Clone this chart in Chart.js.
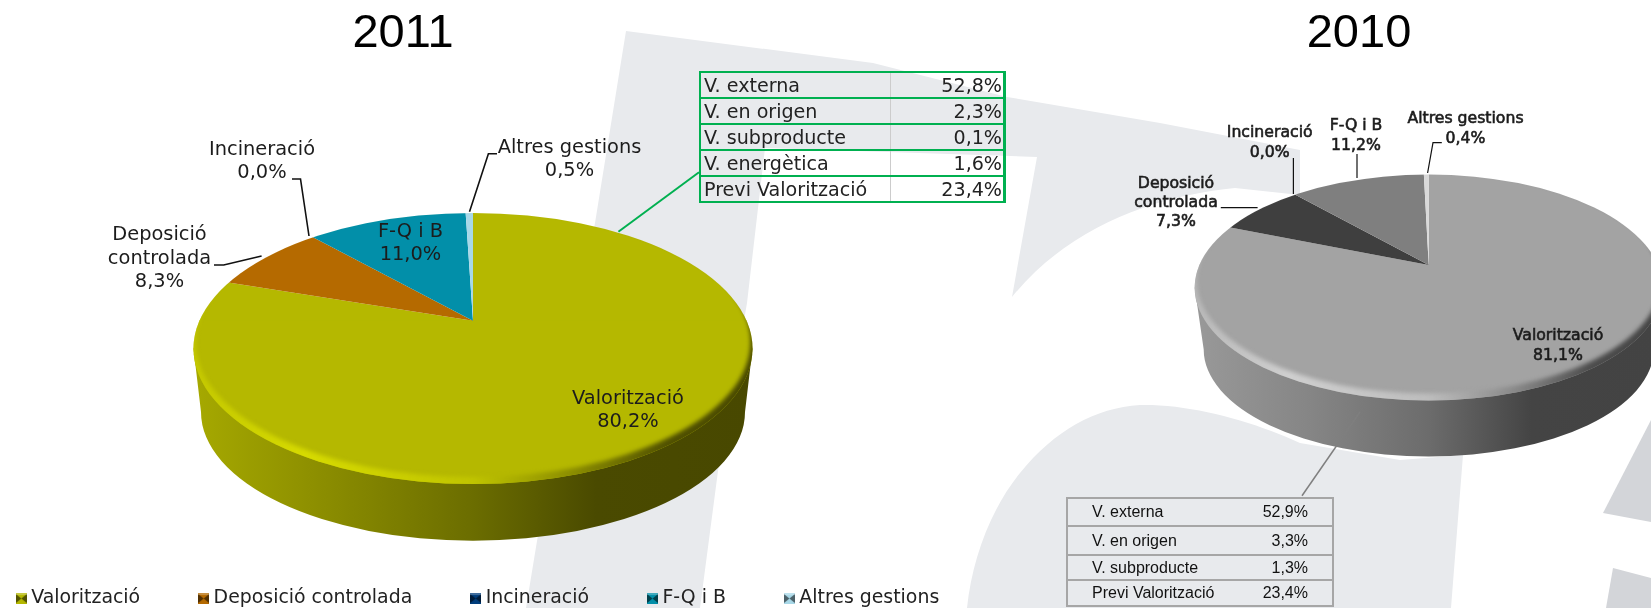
<!DOCTYPE html>
<html lang="ca">
<head>
  <meta charset="UTF-8">
  <title>Gestió 2011 i 2010</title>
  <script src="https://cdn.jsdelivr.net/npm/chart.js"></script>
  <style>
    html, body { margin: 0; padding: 0; background: #fff; width: 1651px; height: 608px; overflow: hidden; }
    #watermark { position: absolute; left: 0; top: 0; }
    canvas { position: absolute; top: 0; }
    #chart2011 { left: -50px; }
    #chart2010 { left: 1067px; }
    table { position: absolute; border-collapse: collapse; table-layout: fixed; }
    #detail2011 { left: 699px; top: 71px; width: 307px; font: 19.1px "DejaVu Sans", sans-serif; color: #222; }
    #detail2011 td { height: 24px; padding: 0 3px; border-top: 2px solid #00b050; border-bottom: 2px solid #00b050; }
    #detail2011 td:first-child { width: 183px; border-left: 2px solid #00b050; border-right: 1px solid #ccc; }
    #detail2011 td:last-child { text-align: right; padding-right: 1px; border-right: 3px solid #00b050; }
    #detail2010 { left: 1066px; top: 497px; width: 268px; font: 16px "Liberation Sans", Arial, sans-serif; color: #111; }
    #detail2010 td { padding: 0; border: 2px solid #a6a6a6; border-left: 0; border-right: 0; }
    #detail2010 td:first-child { padding-left: 24px; border-left: 2px solid #a6a6a6; width: 150px; }
    #detail2010 td:last-child { text-align: right; padding-right: 24px; border-right: 2px solid #a6a6a6; }
  </style>
</head>
<body>

  <svg id="watermark" width="1651" height="608" xmlns="http://www.w3.org/2000/svg">
    <path fill="#e8eaed" d="M626,31 L873,63 L1007,97 L1160,123 L1300,150 L1300,195 L1235,188 C1160,195 1070,225 1012,297 L1037,157 L765,148 L747,303 L718,471 L700,608 L526,608 L537,541 L595,223 Z"/>
    <path fill="#e8eaed" d="M967,608 C972,560 990,510 1020,473 C1055,430 1095,408 1140,405 C1190,404 1250,420 1300,443 L1400,460 L1463,455 L1451,608 Z"/>
    <path fill="#d3d5d9" d="M1603,513 L1651,420 L1651,522 Z"/>
    <path fill="#d3d5d9" d="M1613,568 L1651,578 L1651,608 L1606,608 Z"/>
  </svg>

  <canvas id="chart2011" width="1060" height="608"></canvas>
  <canvas id="chart2010" width="584" height="608"></canvas>
  <table id="detail2011"><tbody></tbody></table>
  <table id="detail2010"><tbody></tbody></table>

  <script>
    const categories = ['Valorització', 'Deposició controlada', 'Incineració', 'F-Q i B', 'Altres gestions'];
    const values2011 = [80.2, 8.3, 0.0, 11.0, 0.5];
    const values2010 = [81.1, 7.3, 0.0, 11.2, 0.4];
    const colors2011 = ['#b5b800', '#b56a00', '#003d7c', '#028fa9', '#a8d8e8'];
    const colors2010 = ['#a3a3a3', '#3f3f3f', '#262626', '#7f7f7f', '#d9d9d9'];

    const detailNames2011 = ['V. externa', 'V. en origen', 'V. subproducte', 'V. energètica', 'Previ Valorització'];
    const detailValues2011 = ['52,8%', '2,3%', '0,1%', '1,6%', '23,4%'];
    const detailNames2010 = ['V. externa', 'V. en origen', 'V. subproducte', 'Previ Valorització'];
    const detailValues2010 = ['52,9%', '3,3%', '1,3%', '23,4%'];

    function fillDetail(id, names, vals, rowHeights) {
      const body = document.querySelector('#' + id + ' tbody');
      names.forEach((n, i) => {
        const tr = document.createElement('tr');
        tr.style.height = rowHeights[i] + 'px';
        tr.innerHTML = `<td>${n}</td><td>${vals[i]}</td>`;
        body.appendChild(tr);
      });
    }
    fillDetail('detail2011', detailNames2011, detailValues2011, [26, 26, 26, 26, 26]);
    fillDetail('detail2010', detailNames2010, detailValues2010, [28, 29, 25, 26]);

    // small bevelled legend square
    function swatch(color) {
      const c = document.createElement('canvas');
      c.width = 11; c.height = 11;
      const g = c.getContext('2d');
      g.fillStyle = color;
      g.fillRect(0, 0, 11, 11);
      g.fillStyle = 'rgba(0,0,0,0.55)';
      g.beginPath(); g.moveTo(0, 1); g.lineTo(5.5, 5.5); g.lineTo(0, 10); g.fill();
      g.beginPath(); g.moveTo(11, 1); g.lineTo(5.5, 5.5); g.lineTo(11, 10); g.fill();
      g.fillStyle = 'rgba(255,255,255,0.25)';
      g.fillRect(0, 0, 11, 2);
      return c;
    }

    function ellipsePath(ctx, x, y, rx, ry) {
      ctx.ellipse(x, y, rx, ry, 0, 0, Math.PI * 2);
    }

    function hGradient(ctx, x0, x1, stops) {
      const g = ctx.createLinearGradient(x0, 0, x1, 0);
      stops.forEach(s => g.addColorStop(s[0], s[1]));
      return g;
    }

    function makePie(id, values, colors, look) {
      const ox = look.originX;
      const cx = look.cx - ox;

      const pie3d = {
        id: 'pie3d',
        afterLayout(chart) {
          // title sits over its own x, not the middle of the canvas
          const t = chart.titleBlock;
          if (t) { t.left = look.titleX - ox - 100; t.right = look.titleX - ox + 100; }
          if (look.legend) chart.legend.top += 10;
        },
        beforeDatasetDraw(chart, args) {
          const ctx = chart.ctx;
          const arcs = args.meta.data;
          const x0 = cx - look.rx, x1 = cx + look.rx;

          // side wall
          ctx.save();
          ctx.fillStyle = hGradient(ctx, x0, x1, look.wall);
          ctx.beginPath();
          ctx.moveTo(cx - look.rx, look.ey);
          ctx.lineTo(cx + look.rx, look.ey);
          ctx.lineTo(cx + look.rxb, look.eyb);
          ctx.ellipse(cx, look.eyb, look.rxb, look.ryb, 0, 0, Math.PI);
          ctx.closePath();
          ctx.fill();
          ctx.restore();

          // top face: library arcs squashed, upper and lower half separately
          ctx.save();
          ctx.beginPath();
          ellipsePath(ctx, cx, look.ey, look.rx, look.ry);
          ctx.clip();
          [[0, look.cy + 0.5, look.kUp], [look.cy - 0.5, 608, look.kLow]].forEach(h => {
            ctx.save();
            ctx.beginPath();
            ctx.rect(0, h[0], chart.width, h[1] - h[0]);
            ctx.clip();
            ctx.translate(cx, look.cy);
            ctx.scale(1, h[2]);
            ctx.translate(-arcs[0].x, -arcs[0].y);
            arcs.forEach((a, i) => { if (values[i] > 0) a.draw(ctx); });
            ctx.restore();
          });

          // bevel crescent along the front rim
          ctx.save();
          ctx.filter = 'blur(2px)';
          ctx.fillStyle = hGradient(ctx, x0, x1, look.rim);
          ctx.beginPath();
          ellipsePath(ctx, cx, look.ey, look.rx + 4, look.ry + 4);
          ellipsePath(ctx, cx, look.ey - 7, look.rx - 2, look.ry);
          ctx.fill('evenodd');
          ctx.restore();
          ctx.restore();
          return false;
        },
        afterDatasetsDraw(chart) {
          const ctx = chart.ctx;
          ctx.save();
          ctx.strokeStyle = '#111';
          ctx.lineWidth = look.leaderWidth;
          look.leaders.forEach(pts => {
            ctx.beginPath();
            pts.forEach((p, i) => i ? ctx.lineTo(p[0] - ox, p[1]) : ctx.moveTo(p[0] - ox, p[1]));
            ctx.stroke();
          });
          ctx.strokeStyle = look.callout.color;
          ctx.lineWidth = look.callout.width;
          ctx.beginPath();
          ctx.moveTo(look.callout.from[0] - ox, look.callout.from[1]);
          ctx.lineTo(look.callout.to[0] - ox, look.callout.to[1]);
          ctx.stroke();

          ctx.font = look.labelFont;
          ctx.fillStyle = '#1c1c1c';
          ctx.strokeStyle = '#1c1c1c';
          ctx.lineWidth = look.labelStroke;
          ctx.textAlign = 'center';
          ctx.textBaseline = 'middle';
          look.labelPos.forEach((pos, i) => {
            const parts = categories[i] === 'Deposició controlada' ? ['Deposició', 'controlada'] : [categories[i]];
            parts.push(values[i].toFixed(1).replace('.', ',') + '%');
            parts.forEach((t, j) => {
              ctx.fillText(t, pos.x - ox, pos.ys[j]);
              if (look.labelStroke) ctx.strokeText(t, pos.x - ox, pos.ys[j]);
            });
          });
          ctx.restore();
        }
      };

      return new Chart(document.getElementById(id), {
        type: 'pie',
        data: {
          labels: categories,
          datasets: [{ data: values, backgroundColor: colors, borderWidth: 0, radius: look.rx * 1.06 }]
        },
        options: {
          responsive: false,
          animation: false,
          events: [],
          plugins: {
            title: {
              display: true,
              text: look.title,
              color: '#000',
              padding: { top: 6, bottom: 0 },
              font: { family: '"Liberation Sans", Arial, sans-serif', size: 47, weight: 'normal' }
            },
            legend: {
              display: look.legend,
              position: 'bottom',
              labels: {
                color: '#222',
                padding: 63,
                usePointStyle: true,
                pointStyleWidth: 1,
                font: { family: '"DejaVu Sans", sans-serif', size: 18.9 },
                generateLabels(chart) {
                  return Chart.overrides.pie.plugins.legend.labels.generateLabels(chart).map((l, i) => {
                    l.pointStyle = swatch(colors[i]);
                    return l;
                  });
                }
              }
            },
            tooltip: { enabled: false }
          }
        },
        plugins: [pie3d]
      });
    }

    makePie('chart2011', values2011, colors2011, {
      originX: -50, title: '2011', titleX: 403, legend: true,
      cx: 473, cy: 320.7, rx: 279.5, ey: 348.5, ry: 135.5,
      rxb: 272, eyb: 412, ryb: 128.7,
      kUp: 0.46, kLow: 0.75,
      wall: [[0, '#a6a900'], [0.2, '#8f9100'], [0.5, '#6b6d00'], [0.72, '#4a4a00'], [1, '#484800']],
      rim: [[0, '#c4c800'], [0.2, '#d6da00'], [0.5, '#c0c400'], [0.68, '#8a8c00'], [0.85, '#505000'], [1, '#484800']],
      leaderWidth: 1.6,
      leaders: [
        [[292, 179], [300.5, 179], [309, 236]],
        [[497, 153.7], [488.4, 153.7], [469.5, 211.7]],
        [[214, 265], [223.7, 265], [261.6, 256]]
      ],
      callout: { color: '#00b050', width: 2, from: [618.4, 231.7], to: [699, 172.3] },
      labelFont: '19.4px "DejaVu Sans", sans-serif',
      labelStroke: 0,
      labelPos: [
        { x: 628, ys: [399, 422] },
        { x: 159.5, ys: [235, 259, 282] },
        { x: 262, ys: [150, 173] },
        { x: 410.5, ys: [232, 255] },
        { x: 569.5, ys: [148, 171] }
      ]
    });

    makePie('chart2010', values2010, colors2010, {
      originX: 1067, title: '2010', titleX: 1359, legend: false,
      cx: 1428.7, cy: 265, rx: 234, ey: 287.5, ry: 113,
      rxb: 225, eyb: 349.5, ryb: 107,
      kUp: 0.47, kLow: 0.75,
      wall: [[0, '#999999'], [0.25, '#858585'], [0.5, '#6c6c6c'], [0.72, '#444444'], [1, '#434343']],
      rim: [[0, '#b8b8b8'], [0.2, '#cfcfcf'], [0.5, '#bdbdbd'], [0.68, '#8a8a8a'], [0.85, '#4c4c4c'], [1, '#444444']],
      leaderWidth: 1.2,
      leaders: [
        [[1293.4, 158], [1293.4, 194]],
        [[1357, 154], [1357, 178]],
        [[1441.8, 142.7], [1433, 142.7], [1427.6, 173]],
        [[1220.8, 207.7], [1257.6, 207.7]]
      ],
      callout: { color: '#7f7f7f', width: 1.5, from: [1360, 412], to: [1302, 495.7] },
      labelFont: '15.7px "DejaVu Sans", sans-serif',
      labelStroke: 0.6,
      labelPos: [
        { x: 1558, ys: [336, 356] },
        { x: 1176, ys: [184, 203, 222] },
        { x: 1269.7, ys: [133, 153] },
        { x: 1356, ys: [126, 146] },
        { x: 1465.5, ys: [119, 138.5] }
      ]
    });
  </script>
</body>
</html>
